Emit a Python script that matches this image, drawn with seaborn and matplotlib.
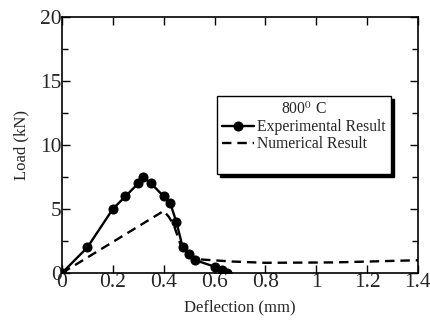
import pandas as pd
import matplotlib
matplotlib.use("Agg")
import matplotlib.pyplot as plt
from matplotlib.ticker import MultipleLocator
from matplotlib.lines import Line2D
import seaborn as sns

# Experimental load-deflection readings
exp_deflection = [0, 0.1, 0.2, 0.25, 0.3, 0.32, 0.35, 0.4, 0.425, 0.45, 0.475, 0.5, 0.525, 0.6, 0.63, 0.65]
exp_load = [0, 2.0, 5.0, 6.0, 7.0, 7.5, 7.0, 6.0, 5.5, 4.0, 2.0, 1.5, 1.0, 0.5, 0.23, 0.0]

# Numerical model curve
num_deflection = [0, 0.4, 0.42, 0.44, 0.465, 0.5, 0.54, 0.67, 0.8, 1.07, 1.4]
num_load = [0, 4.85, 4.4, 3.75, 2.3, 1.3, 1.07, 0.9, 0.8, 0.83, 1.0]

exp_df = pd.DataFrame({"Deflection": exp_deflection, "Load": exp_load})
num_df = pd.DataFrame({"Deflection": num_deflection, "Load": num_load})

sns.set_style("ticks")
plt.rcParams["font.family"] = ["Liberation Serif", "DejaVu Serif"]
plt.rcParams["mathtext.fontset"] = "stix"

fig = plt.figure(figsize=(4.3, 3.27), dpi=100)
ax = fig.add_axes([0.144, 0.165, 0.828, 0.783])

sns.lineplot(data=exp_df, x="Deflection", y="Load", ax=ax, color="black", lw=1.7,
             marker="o", markersize=6.5, markeredgecolor="black", sort=False,
             label="Experimental Result")
sns.lineplot(data=num_df, x="Deflection", y="Load", ax=ax, color="black", lw=1.7,
             linestyle=(0, (4, 2.5)), sort=False, label="Numerical Result")

ax.set_xlim(0, 1.4)
ax.set_ylim(0, 20)
ax.yaxis.set_major_locator(MultipleLocator(5))
ax.yaxis.set_minor_locator(MultipleLocator(2.5))
ax.set_xticks([0, 0.2, 0.4, 0.6, 0.8, 1, 1.2, 1.4])
ax.set_xticklabels(["0", "0.2", "0.4", "0.6", "0.8", "1", "1.2", "1.4"])
ax.tick_params(which="both", direction="in", top=True, right=True, labelsize=15.5,
               width=1, pad=0, color="black")
ax.tick_params(which="major", length=6)
ax.tick_params(which="minor", length=4)
for s in ax.spines.values():
    s.set_linewidth(1.2)
    s.set_color("black")

ax.set_xlabel("Deflection (mm)", fontsize=12, labelpad=5)
ax.set_ylabel("Load (kN)", fontsize=12, labelpad=8)

handles, labels = ax.get_legend_handles_labels()
handles.append(Line2D([], [], color="none"))
labels.append(" ")
leg = ax.legend(handles, labels, title="800$^0$ C", loc="upper left",
                bbox_to_anchor=(0.435, 0.69), fontsize=11.3, title_fontsize=11.3,
                frameon=True, fancybox=False, edgecolor="black",
                shadow={"color": "black", "alpha": 1, "ox": 2, "oy": -2},
                handlelength=2.0, handletextpad=0.2, borderpad=0.35,
                labelspacing=0.05, borderaxespad=0, framealpha=1)
leg.get_frame().set_linewidth(1)

fig.savefig("out.png", dpi=100)
